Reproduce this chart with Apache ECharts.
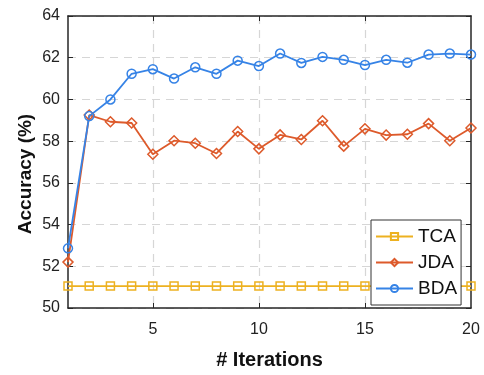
<!DOCTYPE html>
<html>
<head>
<meta charset="utf-8">
<script src="https://cdn.jsdelivr.net/npm/echarts@6/dist/echarts.min.js"></script>
<style>
  html, body { margin: 0; padding: 0; background: #fff; }
  #chart { width: 484px; height: 375px; }
</style>
</head>
<body>
<div id="chart"></div>
<script>
// Iteration numbers on the x axis
const iterations = [1, 2, 3, 4, 5, 6, 7, 8, 9, 10, 11, 12, 13, 14, 15, 16, 17, 18, 19, 20];
// Tick labels shown on the x axis
const xTickLabels = [5, 10, 15, 20];

// Accuracy (%) per iteration for each method
const tca = [51.05, 51.05, 51.05, 51.05, 51.05, 51.05, 51.05, 51.05, 51.05, 51.05,
             51.05, 51.05, 51.05, 51.05, 51.05, 51.05, 51.05, 51.05, 51.05, 51.05];
const jda = [52.2, 59.25, 58.93, 58.87, 57.37, 58.02, 57.9, 57.41, 58.46, 57.63,
             58.3, 58.08, 58.98, 57.76, 58.59, 58.29, 58.33, 58.84, 58.02, 58.63];
const bda = [52.86, 59.2, 60.0, 61.23, 61.45, 61.0, 61.54, 61.23, 61.86, 61.6,
             62.2, 61.75, 62.04, 61.9, 61.65, 61.9, 61.76, 62.15, 62.2, 62.15];

const FONT = '"Liberation Sans", Arial, Helvetica, sans-serif';
const AXIS_COLOR = '#262626';
const GRID_COLOR = '#d6d6d6';

const showTick = (idx, val) => xTickLabels.indexOf(Number(val)) !== -1;
const innerTick = (idx, val) => xTickLabels.indexOf(Number(val)) !== -1 && Number(val) !== 20;

function lineSeries(name, data, color, symbol, size) {
  return {
    name: name,
    type: 'line',
    data: data,
    xAxisIndex: 0,
    yAxisIndex: 0,
    symbol: symbol,
    symbolSize: size,
    showSymbol: true,
    lineStyle: { color: color, width: 1.8 },
    itemStyle: { color: 'rgba(255,255,255,0)', borderColor: color, borderWidth: 1.5 },
    emphasis: { disabled: true },
    z: 3
  };
}

const chart = echarts.init(document.getElementById('chart'), null, { renderer: 'canvas' });

chart.setOption({
  animation: false,
  backgroundColor: '#fff',
  textStyle: { fontFamily: FONT },
  grid: { left: 68, right: 13, top: 16, bottom: 61, containLabel: false },
  graphic: [
    {
      // y-axis title, rotated to read bottom-to-top
      type: 'text',
      x: 26,
      y: 174,
      rotation: Math.PI / 2,
      style: {
        text: 'Accuracy (%)',
        font: 'bold 19px ' + FONT,
        fill: '#111',
        align: 'center',
        verticalAlign: 'middle'
      }
    }
  ],
  legend: {
    orient: 'vertical',
    left: 371,
    top: 220,
    padding: [7, 4, 7, 4],
    itemWidth: 37,
    itemHeight: 9,
    itemGap: 7,
    backgroundColor: '#fff',
    borderColor: '#333',
    borderWidth: 1,
    borderRadius: 0,
    textStyle: { fontFamily: FONT, fontSize: 19, color: '#111', lineHeight: 19 },
    data: ['TCA', 'JDA', 'BDA']
  },
  xAxis: [
    {
      type: 'category',
      data: iterations,
      boundaryGap: false,
      name: '# Iterations',
      nameLocation: 'middle',
      nameGap: 42,
      nameTextStyle: { fontFamily: FONT, fontSize: 20, fontWeight: 'bold', color: '#111' },
      axisLine: { lineStyle: { color: AXIS_COLOR, width: 1.5 } },
      axisTick: { show: true, inside: true, length: 5, alignWithLabel: true, interval: innerTick,
                  lineStyle: { color: AXIS_COLOR, width: 1 } },
      axisLabel: { interval: showTick, fontFamily: FONT, fontSize: 16, color: '#222', margin: 14 },
      splitLine: { show: true, interval: innerTick,
                   lineStyle: { color: GRID_COLOR, type: [8, 6], width: 1.2 } }
    },
    {
      type: 'category',
      data: iterations,
      boundaryGap: false,
      position: 'top',
      axisLine: { lineStyle: { color: AXIS_COLOR, width: 1.5 } },
      axisTick: { show: true, inside: true, length: 5, interval: innerTick,
                  lineStyle: { color: AXIS_COLOR, width: 1 } },
      axisLabel: { show: false },
      splitLine: { show: false }
    }
  ],
  yAxis: [
    {
      type: 'value',
      min: 50,
      max: 64,
      interval: 2,
      axisLine: { show: true, lineStyle: { color: AXIS_COLOR, width: 1.5 } },
      axisTick: { show: true, inside: true, length: 5, lineStyle: { color: AXIS_COLOR, width: 1 } },
      axisLabel: { fontFamily: FONT, fontSize: 16, color: '#222', margin: 8 },
      splitLine: { show: true, lineStyle: { color: GRID_COLOR, type: [8, 6], width: 1.2 } }
    },
    {
      type: 'value',
      min: 50,
      max: 64,
      interval: 2,
      position: 'right',
      axisLine: { show: true, lineStyle: { color: AXIS_COLOR, width: 1.5 } },
      axisTick: { show: true, inside: true, length: 5, lineStyle: { color: AXIS_COLOR, width: 1 } },
      axisLabel: { show: false },
      splitLine: { show: false }
    }
  ],
  series: [
    lineSeries('TCA', tca, '#EDB120', 'rect', 8),
    lineSeries('JDA', jda, '#DD5A2B', 'diamond', 10),
    lineSeries('BDA', bda, '#3683E6', 'circle', 9)
  ]
});
</script>
</body>
</html>
